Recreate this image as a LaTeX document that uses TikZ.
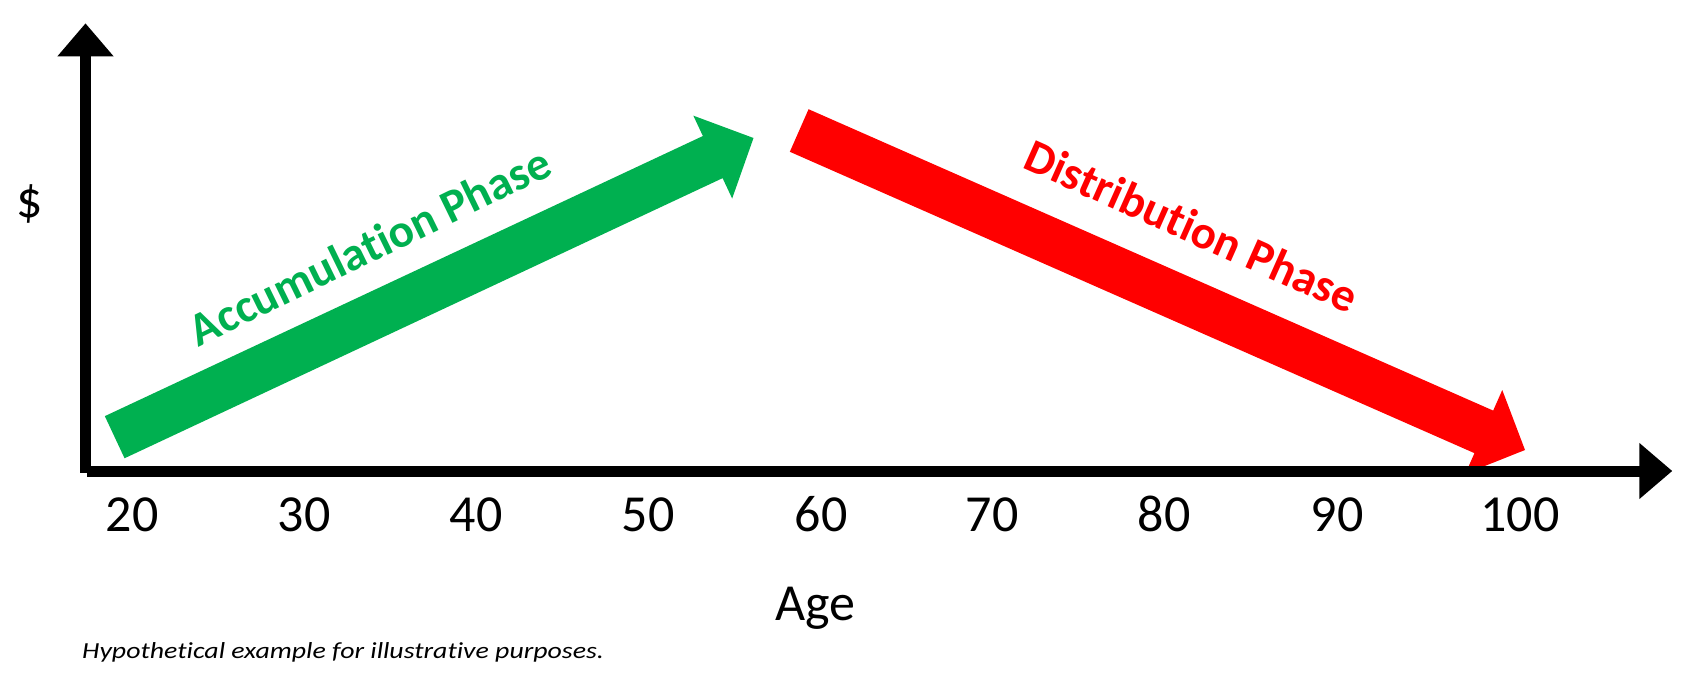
\documentclass[tikz,border=0pt]{standalone}
\usepackage{fontspec}
\setmainfont{Carlito}[Ligatures=NoCommon]
\usetikzlibrary{calc,arrows.meta}
\definecolor{accgreen}{HTML}{00B050}
\definecolor{disred}{HTML}{FF0000}
\tikzset{
  axisline/.style={line width=11pt, -{Triangle[width=54pt,length=33pt]}},
  ticklabel/.style={font=\fontsize{52}{60}\selectfont, anchor=base, inner sep=0pt},
  phaselabel/.style={font=\fontsize{47}{55}\selectfont\bfseries, inner sep=0pt},
}
\newcommand\phasearrow[3]{%
  \coordinate (#1j) at ($(#2)!45pt!(#1)$);
  \fill[#3] ($(#1)!23.25pt!90:(#2)$) -- ($(#1j)!23.25pt!90:(#2)$)
    -- ($(#1j)!45.75pt!90:(#2)$) -- (#2)
    -- ($(#1j)!45.75pt!-90:(#2)$) -- ($(#1j)!23.25pt!-90:(#2)$)
    -- ($(#1)!23.25pt!-90:(#2)$) -- cycle;}
\begin{document}
\begin{tikzpicture}[x=1pt,y=-1pt]
\useasboundingbox (0,0) rectangle (1701,687);
\fill[white] (0,0) rectangle (1701,687);
% phase arrows
\coordinate (gT) at (114.7,437.2);
\coordinate (gP) at (753.5,138);
\coordinate (rT) at (799.2,130.5);
\coordinate (rP) at (1525,450);
\phasearrow{gT}{gP}{accgreen}
\phasearrow{rT}{rP}{disred}
% axes
\coordinate (ybot) at (85.5,472.7);
\coordinate (ytip) at (85.5,23.3);
\coordinate (xleft) at (86.7,471);
\coordinate (xtip) at (1672.3,471);
\draw[axisline] (ybot) -- (ytip);
\draw[axisline] (xleft) -- (xtip);
% labels
\node[phaselabel, text=accgreen, rotate=26] (acc) at (369.6,245.7) {Accumulation Phase};
\node[phaselabel, text=disred, rotate=-24] (dis) at (1192,226) {Distribution Phase};
\node[ticklabel] (t20) at (132,531) {20};
\node[ticklabel] (t30) at (304,531) {30};
\node[ticklabel] (t40) at (476,531) {40};
\node[ticklabel] (t50) at (648,531) {50};
\node[ticklabel] (t60) at (821,531) {60};
\node[ticklabel] (t70) at (992,531) {70};
\node[ticklabel] (t80) at (1164,531) {80};
\node[ticklabel] (t90) at (1337,531) {90};
\node[ticklabel] (t100) at (1520,531) {100};
\node[ticklabel] (age) at (815,620) {Age};
\node[font=\fontsize{52}{60}\selectfont, inner sep=0pt] (dollar) at (30,204) {\$};
\node[font=\fontsize{23}{27}\selectfont\itshape, anchor=base west, inner sep=0pt] (note) at (82,658) {\scalebox{1.21}[1]{Hypothetical example for illustrative purposes.}};
\end{tikzpicture}
\end{document}
